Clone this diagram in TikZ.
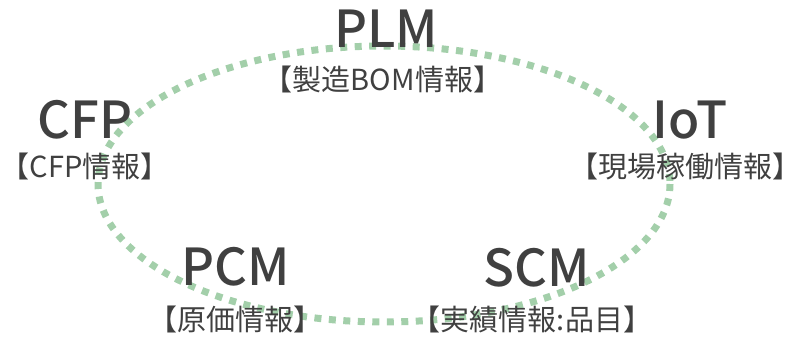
\documentclass[tikz,border=0pt]{standalone}
\usepackage{fontspec}
\setmainfont{Noto Sans CJK JP}
\newfontfamily\titlefont{Noto Sans CJK JP Medium}
\definecolor{ringgreen}{RGB}{163,207,170}
\definecolor{txtgray}{RGB}{64,64,64}
\tikzset{
  ring/.style={draw=ringgreen, line width=7pt, dash pattern=on 7pt off 7.5pt},
  title/.style={text=txtgray, font=\titlefont\fontsize{51}{55}\selectfont, inner sep=0pt},
  sub/.style={text=txtgray, font=\fontsize{29}{33}\selectfont, inner sep=0pt},
}
\begin{document}
\begin{tikzpicture}[x=1pt,y=-1pt]
\useasboundingbox (0,0) rectangle (789,337);
\draw[ring] (384,184) ellipse [x radius=286, y radius=138];
\node[title] (plm) at (386,29) {PLM};
\node[sub] (plms) at (383,79) {【製造BOM情報】};
\node[title] (cfp) at (85,120) {CFP};
\node[sub] (cfps) at (85,166) {【CFP情報】};
\node[title] (iot) at (690,120) {IoT};
\node[sub] (iots) at (685,166) {【現場稼働情報】};
\node[title] (pcm) at (236,267) {PCM};
\node[sub] (pcms) at (235,319) {【原価情報】};
\node[title] (scm) at (537,268) {SCM};
\node[sub] (scms) at (532,319) {【実績情報:品目】};
\end{tikzpicture}
\end{document}
